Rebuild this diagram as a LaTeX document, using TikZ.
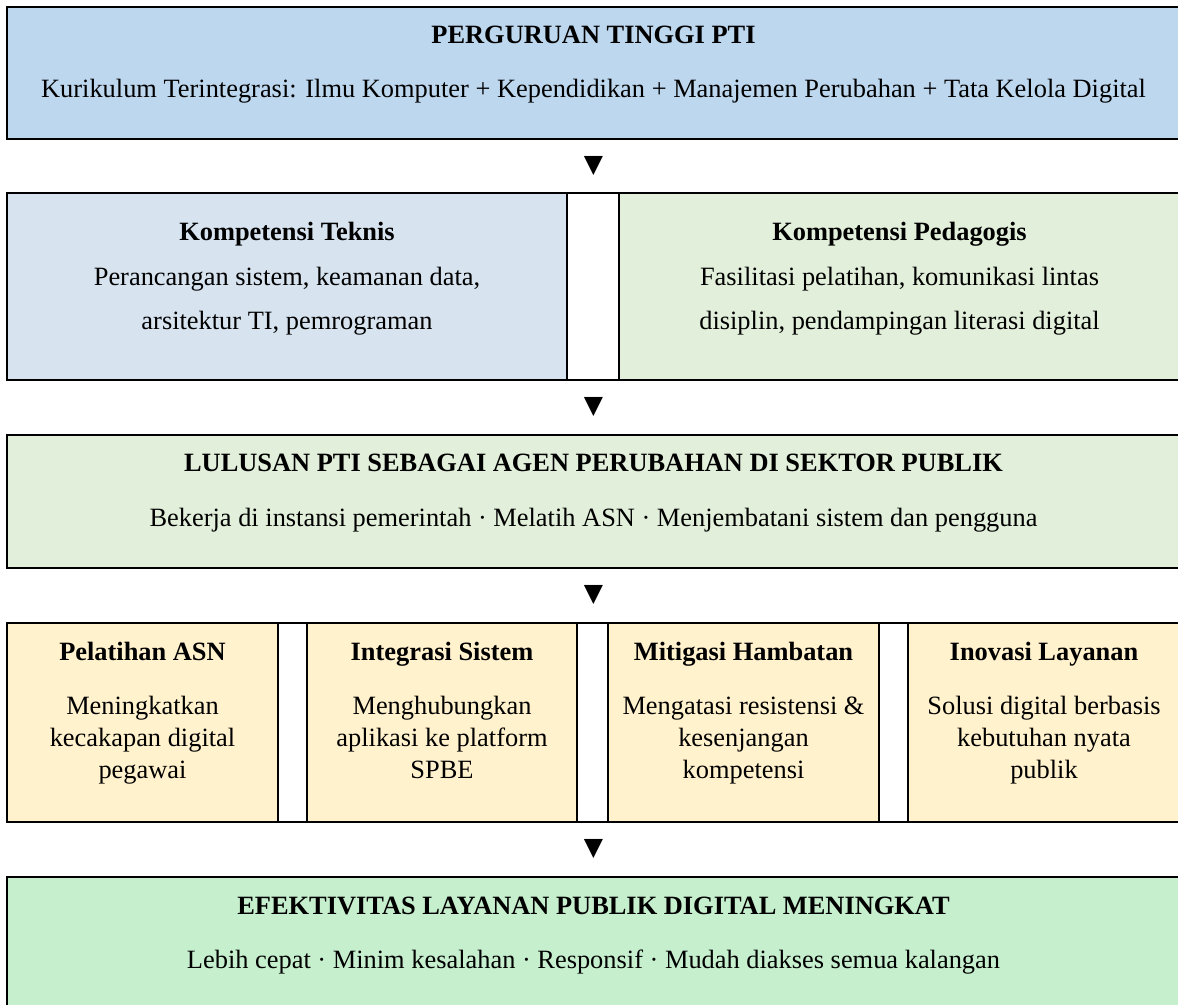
\documentclass[tikz,border=0pt]{standalone}
\usepackage{fontspec}
\setmainfont{Liberation Serif}
\newfontfamily\symfont{DejaVu Sans}
\usetikzlibrary{fit}

\definecolor{biruTua}{HTML}{BDD7EE}
\definecolor{biruMuda}{HTML}{D7E4F0}
\definecolor{hijauMuda}{HTML}{E2EFDA}
\definecolor{kuning}{HTML}{FFF2CC}
\definecolor{hijauCerah}{HTML}{C6EFCE}

\tikzset{
  cell/.style={draw, line width=1pt, inner sep=0pt, outer sep=0pt, fit={#1}},
  garis/.style={line width=1pt},
  judul/.style={font=\fontsize{13.2}{15}\selectfont\bfseries, anchor=base, inner sep=0pt},
  isi/.style={font=\fontsize{13.2}{15}\selectfont, anchor=base, inner sep=0pt},
  panah/.style={font=\symfont\fontsize{12.5}{12.5}\selectfont, inner sep=0pt}
}

\begin{document}
\begin{tikzpicture}[x=0.5pt, y=-0.5pt]
\useasboundingbox (0,0) rectangle (1178,1005);
\clip (0,0) rectangle (1178,1005);

% baris 1: perguruan tinggi
\node[cell={(7,7) (1180,139)}, fill=biruTua] (pti) {};
\node[judul] (ptiJudul) at (593.5,44) {PERGURUAN TINGGI PTI};
\node[isi] (ptiIsi) at (593.5,98) {Kurikulum Terintegrasi: Ilmu Komputer + Kependidikan + Manajemen Perubahan + Tata Kelola Digital};

\node[panah] (p1) at (593.5,166) {▼};

% baris 2: kompetensi
\node[cell={(7,193) (567,380)}, fill=biruMuda] (teknis) {};
\node[cell={(619,193) (1180,380)}, fill=hijauMuda] (pedagogis) {};
\draw[garis] (teknis.north east) -- (pedagogis.north west);
\draw[garis] (teknis.south east) -- (pedagogis.south west);

\node[judul] (teknisJudul) at (287,241) {Kompetensi Teknis};
\node[isi] (teknisA) at (287,286) {Perancangan sistem, keamanan data,};
\node[isi] (teknisB) at (287,330) {arsitektur TI, pemrograman};

\node[judul] (pedJudul) at (899.5,241) {Kompetensi Pedagogis};
\node[isi] (pedA) at (899.5,286) {Fasilitasi pelatihan, komunikasi lintas};
\node[isi] (pedB) at (899.5,330) {disiplin, pendampingan literasi digital};

\node[panah] (p2) at (593.5,407.5) {▼};

% baris 3: lulusan
\node[cell={(7,435) (1180,568)}, fill=hijauMuda] (lulusan) {};
\node[judul] (lulusanJudul) at (593.5,472) {LULUSAN PTI SEBAGAI AGEN PERUBAHAN DI SEKTOR PUBLIK};
\node[isi] (lulusanIsi) at (593.5,526) {Bekerja di instansi pemerintah · Melatih ASN · Menjembatani sistem dan pengguna};

\node[panah] (p3) at (593.5,595.5) {▼};

% baris 4: empat peran
\foreach \nm/\xa/\xb/\jd/\la/\lb/\lc in {
  pelatihan/7/278/Pelatihan ASN/Meningkatkan/kecakapan digital/pegawai,
  integrasi/307/577/Integrasi Sistem/Menghubungkan/aplikasi ke platform/SPBE,
  mitigasi/608/879/Mitigasi Hambatan/Mengatasi resistensi \&/kesenjangan/kompetensi,
  inovasi/908/1180/Inovasi Layanan/Solusi digital berbasis/kebutuhan nyata/publik} {
  \node[cell={(\xa,623) (\xb,822)}, fill=kuning] (\nm) {};
  \node[judul] (\nm-j) at ({(\xa+\xb)/2},660) {\jd};
  \node[isi] (\nm-1) at ({(\xa+\xb)/2},714) {\la};
  \node[isi] (\nm-2) at ({(\xa+\xb)/2},746) {\lb};
  \node[isi] (\nm-3) at ({(\xa+\xb)/2},778) {\lc};
}
\foreach \ka/\kb in {pelatihan/integrasi, integrasi/mitigasi, mitigasi/inovasi} {
  \draw[garis] (\ka.north east) -- (\kb.north west);
  \draw[garis] (\ka.south east) -- (\kb.south west);
}

\node[panah] (p4) at (593.5,849.5) {▼};

% baris 5: hasil
\node[cell={(7,877) (1180,1009)}, fill=hijauCerah] (hasil) {};
\node[judul] (hasilJudul) at (593.5,914) {EFEKTIVITAS LAYANAN PUBLIK DIGITAL MENINGKAT};
\node[isi] (hasilIsi) at (593.5,968) {Lebih cepat · Minim kesalahan · Responsif · Mudah diakses semua kalangan};
\end{tikzpicture}
\end{document}
